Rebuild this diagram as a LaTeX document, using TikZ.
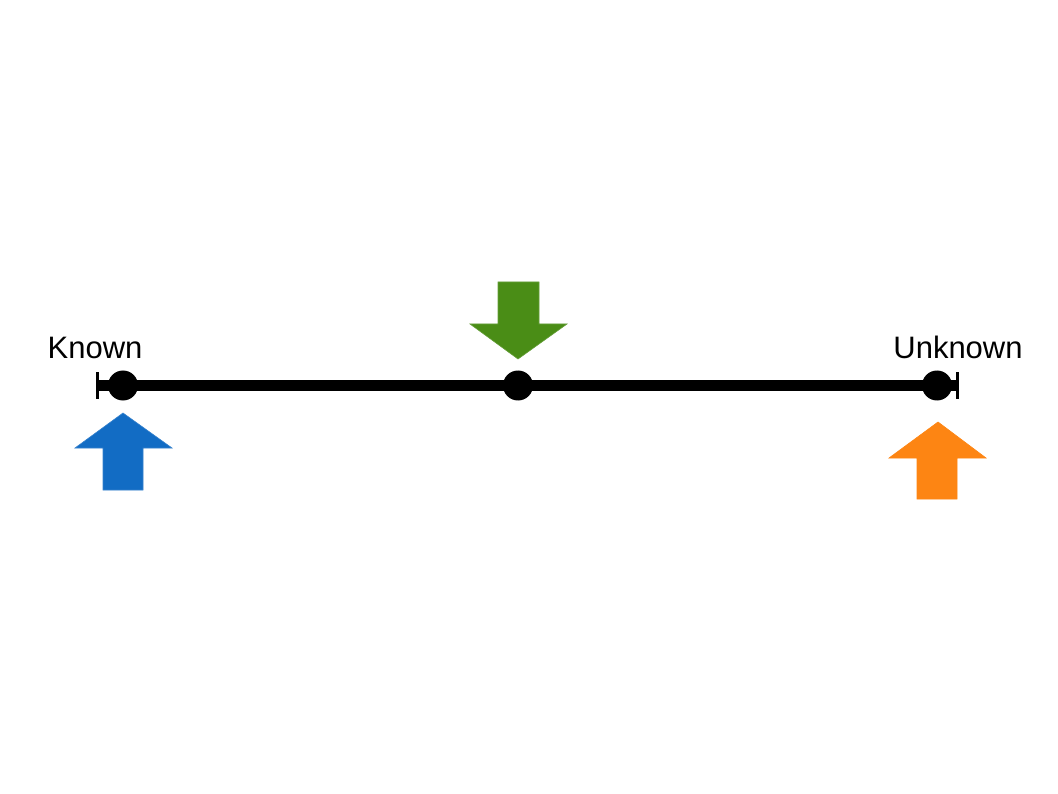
\documentclass[tikz,border=0pt]{standalone}
\usepackage{fontspec}
\setmainfont{Liberation Sans}
\definecolor{arrblue}{RGB}{18,108,196}
\definecolor{arrgreen}{RGB}{74,141,22}
\definecolor{arrorange}{RGB}{253,133,19}
\begin{document}
\begin{tikzpicture}[x=1pt,y=-1pt,
  dot/.style={circle,fill=black,inner sep=0pt,minimum size=30pt},
  lbl/.style={font=\fontsize{31}{37}\selectfont,anchor=base,inner sep=0pt},
  bigarrow/.style={line width=0.6pt}]
\useasboundingbox (0,0) rectangle (1058,794);
% axis
\coordinate (L) at (97,385.5);
\coordinate (R) at (958,385.5);
\draw[line width=10pt] (L) -- (R);
\draw[line width=3pt] (97.5,372.5) -- (97.5,398.5);
\draw[line width=3pt] (957.5,372.5) -- (957.5,398.5);
\node[dot] (d1) at (123,385.5) {};
\node[dot] (d2) at (518,385.5) {};
\node[dot] (d3) at (937,385.5) {};
% labels
\node[lbl] (known) at (95,359) {Known};
\node[lbl] (unknown) at (958,359) {Unknown};
% blue arrow (up)
\filldraw[bigarrow,fill=arrblue,draw=arrblue!85!white] (123,413) -- (172,448) -- (143,448) -- (143,490) -- (103,490) -- (103,448) -- (75,448) -- cycle;
% green arrow (down)
\filldraw[bigarrow,fill=arrgreen,draw=arrgreen!85!white] (518,359) -- (567,324) -- (539,324) -- (539,282) -- (498,282) -- (498,324) -- (470,324) -- cycle;
% orange arrow (up)
\filldraw[bigarrow,fill=arrorange,draw=arrorange] (938,422) -- (986,458) -- (957,458) -- (957,499) -- (917,499) -- (917,458) -- (889,458) -- cycle;
\end{tikzpicture}
\end{document}
